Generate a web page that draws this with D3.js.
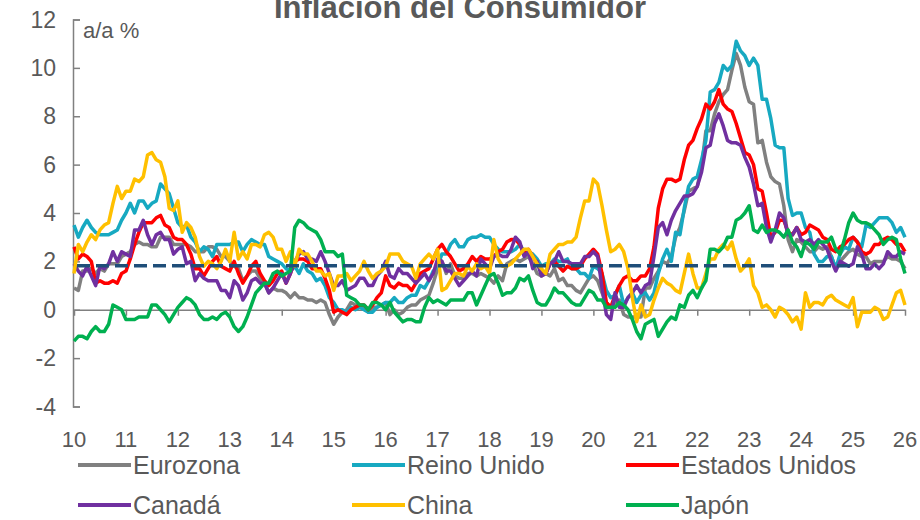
<!DOCTYPE html>
<html>
<head>
<meta charset="utf-8">
<script src="https://cdn.jsdelivr.net/npm/d3@7"></script>
<style>
  body { margin: 0; background: #fff; }
  text { font-family: 'Liberation Sans', Arial, sans-serif; fill: #595959; }
</style>
</head>
<body>
<svg id="chart"></svg>
<script>
// Monthly y/y CPI, Jan 2010 - Jan 2026
var START_YEAR = 10
var yearTicks = d3.range(10, 27)
var valueTicks = [-4, -2, 0, 2, 4, 6, 8, 10, 12]
var TARGET = 1.82
var targetSpan = [10, 25.45]

var seriesNames = ['Eurozona', 'Reino Unido', 'Estados Unidos', 'Canadá', 'China', 'Japón']
var seriesColors = ['#808080', '#17A9C1', '#FF0000', '#7030A0', '#FFC000', '#00B050']

var eurozona = [
  0.9, 0.8, 1.6, 1.6, 1.7, 1.5, 1.7, 1.6, 1.9, 1.9, 1.9, 2.2,
  2.3, 2.4, 2.7, 2.8, 2.7, 2.7, 2.6, 2.6, 3.0, 3.0, 3.0, 2.7,
  2.7, 2.7, 2.7, 2.6, 2.4, 2.4, 2.4, 2.6, 2.6, 2.5, 2.2, 2.2,
  2.0, 1.8, 1.7, 1.2, 1.4, 1.6, 1.6, 1.3, 1.1, 0.7, 0.9, 0.8,
  0.8, 0.7, 0.5, 0.7, 0.5, 0.5, 0.4, 0.4, 0.3, 0.4, 0.3, -0.2,
  -0.6, -0.3, -0.1, 0.0, 0.3, 0.2, 0.2, 0.1, -0.1, 0.1, 0.1, 0.2,
  0.3, -0.2, 0.0, -0.2, -0.1, 0.1, 0.2, 0.2, 0.4, 0.5, 0.6, 1.1,
  1.7, 2.0, 1.5, 1.9, 1.4, 1.3, 1.3, 1.5, 1.5, 1.4, 1.5, 1.4,
  1.3, 1.1, 1.4, 1.2, 1.9, 2.0, 2.1, 2.0, 2.1, 2.2, 1.9, 1.5,
  1.4, 1.5, 1.4, 1.7, 1.2, 1.3, 1.0, 1.0, 0.8, 0.7, 1.0, 1.3,
  1.4, 1.2, 0.7, 0.3, 0.1, 0.3, 0.4, -0.2, -0.3, -0.3, -0.3, -0.3,
  0.9, 0.9, 1.3, 1.6, 2.0, 1.9, 2.2, 3.0, 3.4, 4.1, 4.9, 5.0,
  5.1, 5.9, 7.4, 7.4, 8.1, 8.6, 8.9, 9.1, 9.9, 10.6, 10.1, 9.2,
  8.6, 8.5, 6.9, 7.0, 6.1, 5.5, 5.3, 5.2, 4.3, 2.9, 2.4, 2.9,
  2.8, 2.6, 2.4, 2.4, 2.6, 2.5, 2.6, 2.2, 1.7, 2.0, 2.2, 2.4,
  2.5, 2.3, 2.2, 2.2, 1.9, 2.0, 2.0, 2.0, 2.2, 2.1, 2.1, 2.0,
  1.7
]

var reinoUnido = [
  3.5, 3.0, 3.4, 3.7, 3.4, 3.2, 3.1, 3.1, 3.1, 3.2, 3.3, 3.7,
  4.0, 4.4, 4.0, 4.5, 4.5, 4.2, 4.4, 4.5, 5.2, 5.0, 4.8, 4.2,
  3.6, 3.4, 3.5, 3.0, 2.8, 2.4, 2.6, 2.5, 2.2, 2.7, 2.7, 2.7,
  2.7, 2.8, 2.8, 2.4, 2.7, 2.9, 2.8, 2.7, 2.7, 2.2, 2.1, 2.0,
  1.9, 1.7, 1.6, 1.8, 1.5, 1.9, 1.6, 1.5, 1.2, 1.3, 1.0, 0.5,
  0.3, 0.0, 0.0, -0.1, 0.1, 0.0, 0.1, 0.0, -0.1, -0.1, 0.1, 0.2,
  0.3, 0.3, 0.5, 0.3, 0.3, 0.5, 0.6, 0.6, 1.0, 0.9, 1.2, 1.6,
  1.8, 2.3, 2.3, 2.7, 2.9, 2.6, 2.6, 2.9, 3.0, 3.0, 3.1, 3.0,
  3.0, 2.7, 2.5, 2.4, 2.4, 2.4, 2.5, 2.7, 2.4, 2.4, 2.3, 2.1,
  1.8, 1.9, 1.9, 2.1, 2.0, 2.0, 2.1, 1.7, 1.7, 1.5, 1.5, 1.3,
  1.8, 1.7, 1.5, 0.8, 0.5, 0.6, 1.0, 0.2, 0.5, 0.7, 0.3, 0.6,
  0.7, 0.4, 0.7, 1.5, 2.1, 2.5, 2.0, 3.2, 3.1, 4.2, 5.1, 5.4,
  5.5, 6.2, 7.0, 9.0, 9.1, 9.4, 10.1, 9.9, 10.1, 11.1, 10.7, 10.5,
  10.1, 10.4, 10.1, 8.7, 8.7, 7.9, 6.8, 6.7, 6.7, 4.6, 3.9, 4.0,
  4.0, 3.4, 3.2, 2.3, 2.0, 2.0, 2.2, 2.2, 1.7, 2.3, 2.6, 2.5,
  3.0, 2.8, 2.6, 3.5, 3.4, 3.6, 3.8, 3.8, 3.8, 3.6, 3.2, 3.4,
  3.0
]

var estadosUnidos = [
  2.6, 2.1, 2.3, 2.2, 2.0, 1.1, 1.2, 1.1, 1.1, 1.2, 1.1, 1.5,
  1.6, 2.1, 2.7, 3.2, 3.6, 3.6, 3.6, 3.8, 3.9, 3.5, 3.4, 3.0,
  2.9, 2.9, 2.7, 2.3, 1.7, 1.7, 1.4, 1.7, 2.0, 2.2, 1.8, 1.7,
  1.6, 2.0, 1.5, 1.1, 1.4, 1.8, 2.0, 1.5, 1.2, 1.0, 1.2, 1.5,
  1.6, 1.1, 1.5, 2.0, 2.1, 2.1, 2.0, 1.7, 1.7, 1.7, 1.3, 0.8,
  -0.1, 0.0, -0.1, -0.2, 0.0, 0.1, 0.2, 0.2, 0.0, 0.2, 0.5, 0.7,
  1.4, 1.0, 0.9, 1.1, 1.0, 1.0, 0.8, 1.1, 1.5, 1.6, 1.7, 2.1,
  2.5, 2.7, 2.4, 2.2, 1.9, 1.6, 1.7, 1.9, 2.2, 2.0, 2.2, 2.1,
  2.1, 2.2, 2.4, 2.5, 2.8, 2.9, 2.9, 2.7, 2.3, 2.5, 2.2, 1.9,
  1.6, 1.5, 1.9, 2.0, 1.8, 1.6, 1.8, 1.7, 1.7, 1.8, 2.1, 2.3,
  2.5, 2.3, 1.5, 0.3, 0.1, 0.6, 1.0, 1.3, 1.4, 1.2, 1.2, 1.4,
  1.4, 1.7, 2.6, 4.2, 5.0, 5.4, 5.4, 5.3, 5.4, 6.2, 6.8, 7.0,
  7.5, 7.9, 8.5, 8.3, 8.6, 9.1, 8.5, 8.3, 8.2, 7.7, 7.1, 6.5,
  6.4, 6.0, 5.0, 4.9, 4.0, 3.0, 3.2, 3.7, 3.7, 3.2, 3.1, 3.4,
  3.1, 3.2, 3.5, 3.4, 3.3, 3.0, 2.9, 2.5, 2.4, 2.6, 2.7, 2.9,
  3.0, 2.8, 2.4, 2.3, 2.4, 2.7, 2.7, 2.9, 3.0, 2.9, 2.7, 2.7,
  2.4
]

var canada = [
  1.9, 1.6, 1.4, 1.8, 1.4, 1.0, 1.8, 1.7, 1.9, 2.4, 2.0, 2.4,
  2.3, 2.2, 3.3, 3.3, 3.7, 3.1, 2.7, 3.1, 3.2, 2.9, 2.9, 2.3,
  2.5, 2.6, 1.9, 2.0, 1.2, 1.5, 1.3, 1.2, 1.2, 1.2, 0.8, 0.8,
  0.5, 1.2, 1.0, 0.4, 0.7, 1.2, 1.3, 1.1, 1.1, 0.7, 0.9, 1.2,
  1.5, 1.1, 1.5, 2.0, 2.3, 2.4, 2.1, 2.1, 2.0, 2.4, 2.0, 1.5,
  1.0, 1.0, 1.2, 0.8, 0.9, 1.0, 1.3, 1.3, 1.0, 1.0, 1.4, 1.6,
  2.0, 1.4, 1.3, 1.7, 1.5, 1.5, 1.3, 1.1, 1.3, 1.5, 1.2, 1.5,
  2.1, 2.0, 1.6, 1.6, 1.3, 1.0, 1.2, 1.4, 1.6, 1.4, 2.1, 1.9,
  1.7, 2.2, 2.3, 2.2, 2.2, 2.5, 3.0, 2.8, 2.2, 2.4, 1.7, 2.0,
  1.4, 1.5, 1.9, 2.0, 2.4, 2.0, 2.0, 1.9, 1.9, 1.9, 2.2, 2.2,
  2.4, 2.2, 0.9, -0.2, -0.4, 0.7, 0.1, 0.1, 0.5, 0.7, 1.0, 0.7,
  1.0, 1.1, 2.2, 3.4, 3.6, 3.1, 3.7, 4.1, 4.4, 4.7, 4.7, 4.8,
  5.1, 5.7, 6.7, 6.8, 7.7, 8.1, 7.6, 7.0, 6.9, 6.9, 6.8, 6.3,
  5.9, 5.2, 4.3, 4.4, 3.4, 2.8, 3.3, 4.0, 3.8, 3.1, 3.1, 3.4,
  2.9, 2.8, 2.9, 2.7, 2.9, 2.7, 2.5, 2.0, 1.6, 2.0, 1.9, 1.8,
  1.9, 2.6, 2.3, 1.7, 1.7, 1.9, 1.7, 1.9, 2.4, 2.2, 2.2, 2.4,
  2.3
]

var china = [
  1.5, 2.7, 2.4, 2.8, 3.1, 2.9, 3.3, 3.5, 3.6, 4.4, 5.1, 4.6,
  4.9, 4.9, 5.4, 5.3, 5.5, 6.4, 6.5, 6.2, 6.1, 5.5, 4.2, 4.1,
  4.5, 3.2, 3.6, 3.4, 3.0, 2.2, 1.8, 2.0, 1.9, 1.7, 2.0, 2.5,
  2.0, 3.2, 2.1, 2.4, 2.1, 2.7, 2.7, 2.6, 3.1, 3.2, 3.0, 2.5,
  2.5, 2.0, 2.4, 1.8, 2.5, 2.3, 2.3, 2.0, 1.6, 1.6, 1.4, 1.5,
  0.8, 1.4, 1.4, 1.5, 1.2, 1.4, 1.6, 2.0, 1.6, 1.3, 1.5, 1.6,
  1.8, 2.3, 2.3, 2.3, 2.0, 1.9, 1.8, 1.3, 1.9, 2.1, 2.3, 2.1,
  2.5, 0.8, 0.9, 1.2, 1.5, 1.5, 1.4, 1.8, 1.6, 1.9, 1.7, 1.8,
  1.5, 2.9, 2.1, 1.8, 1.8, 1.9, 2.1, 2.3, 2.5, 2.5, 2.2, 1.9,
  1.7, 1.5, 2.3, 2.5, 2.7, 2.7, 2.8, 2.8, 3.0, 3.8, 4.5, 4.5,
  5.4, 5.2, 4.3, 3.3, 2.4, 2.5, 2.7, 2.4, 1.7, 0.5, -0.5, 0.2,
  -0.3, -0.2, 0.4, 0.9, 1.3, 1.1, 1.0, 0.8, 0.7, 1.5, 2.3, 1.5,
  0.9, 0.9, 1.5, 2.1, 2.1, 2.5, 2.7, 2.5, 2.8, 2.1, 1.6, 1.8,
  2.1, 1.0, 0.7, 0.1, 0.2, 0.0, -0.3, 0.1, 0.0, -0.2, -0.5, -0.3,
  -0.8, 0.7, 0.1, 0.3, 0.3, 0.2, 0.5, 0.6, 0.4, 0.3, 0.2, 0.1,
  0.5, -0.7, -0.1, -0.1, -0.1, 0.1, 0.0, -0.4, -0.3, 0.2, 0.7, 0.8,
  0.2
]

var japon = [
  -1.3, -1.1, -1.1, -1.2, -0.9, -0.7, -0.9, -0.9, -0.6, 0.2, 0.1, 0.0,
  -0.4, -0.4, -0.4, -0.3, -0.3, -0.3, 0.2, 0.2, 0.0, -0.2, -0.5, -0.2,
  0.1, 0.3, 0.5, 0.4, 0.2, -0.2, -0.4, -0.4, -0.3, -0.4, -0.2, -0.1,
  -0.3, -0.7, -0.9, -0.7, -0.3, 0.2, 0.7, 0.9, 1.1, 1.1, 1.5, 1.6,
  1.4, 1.5, 1.6, 3.4, 3.7, 3.6, 3.4, 3.3, 3.2, 2.9, 2.4, 2.4,
  2.4, 2.2, 2.3, 0.6, 0.5, 0.4, 0.2, 0.2, 0.0, 0.3, 0.3, 0.2,
  0.0, 0.3, -0.1, -0.3, -0.5, -0.4, -0.4, -0.5, -0.5, 0.1, 0.5, 0.3,
  0.4, 0.3, 0.2, 0.4, 0.4, 0.4, 0.4, 0.7, 0.7, 0.2, 0.6, 1.0,
  1.4, 1.5, 1.1, 0.6, 0.7, 0.7, 0.9, 1.3, 1.2, 1.4, 0.8, 0.3,
  0.2, 0.2, 0.5, 0.9, 0.7, 0.7, 0.5, 0.3, 0.2, 0.2, 0.5, 0.8,
  0.7, 0.4, 0.4, 0.1, 0.1, 0.1, 0.3, 0.2, 0.0, -0.4, -0.9, -1.2,
  -0.6, -0.5, -0.4, -1.1, -0.8, -0.5, -0.3, -0.4, 0.2, 0.1, 0.6, 0.8,
  0.5, 0.9, 1.2, 2.5, 2.5, 2.4, 2.6, 3.0, 3.0, 3.7, 3.8, 4.0,
  4.3, 3.3, 3.2, 3.5, 3.2, 3.3, 3.3, 3.2, 3.0, 3.3, 2.8, 2.6,
  2.2, 2.8, 2.7, 2.5, 2.8, 2.8, 2.8, 3.0, 2.5, 2.3, 2.9, 3.6,
  4.0, 3.7, 3.6, 3.6, 3.5, 3.3, 3.1, 2.7, 2.9, 3.0, 2.9, 2.1,
  1.5
]

;(function () {
  var WIDTH = 920
  var HEIGHT = 520
  var AXIS_COLOR = '#808080'
  var margin = { top: 19, left: 74, right: 15, bottom: 114 }

  var seriesValues = [eurozona, reinoUnido, estadosUnidos, canada, china, japon]

  var svg = d3.select('#chart')
    .attr('width', WIDTH)
    .attr('height', HEIGHT)

  var x = d3.scaleLinear()
    .domain([10, 26])
    .range([margin.left, WIDTH - margin.right])

  var y = d3.scaleLinear()
    .domain([-4, 12])
    .range([HEIGHT - margin.bottom + 0.5, margin.top + 0.5])

  // Title (cut at the top as in the source)
  svg.append('text')
    .attr('x', 460)
    .attr('y', 18)
    .attr('text-anchor', 'middle')
    .style('font-size', '31px')
    .style('font-weight', 'bold')
    .text('Inflación del Consumidor')

  // Y axis, ticks pointing inward
  var yAxis = svg.append('g')
    .attr('transform', 'translate(' + (margin.left - 1) + ',0)')
    .call(d3.axisRight(y).tickValues(valueTicks).tickSize(7).tickFormat(''))
  yAxis.select('.domain').attr('stroke', AXIS_COLOR).attr('stroke-width', 1.5)
  yAxis.selectAll('.tick line').attr('stroke', AXIS_COLOR).attr('stroke-width', 1.5)

  svg.append('g')
    .selectAll('text')
    .data(valueTicks)
    .enter().append('text')
    .attr('x', 56)
    .attr('y', function (d) { return y(d) + 8 })
    .attr('text-anchor', 'end')
    .style('font-size', '23px')
    .text(function (d) { return d })

  svg.append('text')
    .attr('x', 83)
    .attr('y', 38)
    .style('font-size', '22px')
    .text('a/a %')

  // X axis at zero, ticks pointing down
  var xAxis = svg.append('g')
    .attr('transform', 'translate(0,' + y(0) + ')')
    .call(d3.axisBottom(x).tickValues(yearTicks).tickSize(6).tickSizeOuter(0).tickFormat(''))
  xAxis.select('.domain').attr('stroke', AXIS_COLOR).attr('stroke-width', 1.5)
  xAxis.selectAll('.tick line').attr('stroke', AXIS_COLOR).attr('stroke-width', 1.5)

  svg.append('g')
    .selectAll('text')
    .data(yearTicks)
    .enter().append('text')
    .attr('x', function (d) { return x(d) })
    .attr('y', 447)
    .attr('text-anchor', 'middle')
    .style('font-size', '22px')
    .text(function (d) { return d })

  // Series
  var line = d3.line()
    .x(function (d, i) { return x(START_YEAR + i / 12) })
    .y(function (d) { return y(d) })

  svg.append('g')
    .classed('series', true)
    .selectAll('path')
    .data(seriesValues)
    .enter().append('path')
    .attr('d', line)
    .attr('fill', 'none')
    .attr('stroke', function (d, i) { return seriesColors[i] })
    .attr('stroke-width', 3.5)
    .attr('stroke-linejoin', 'round')

  // Target line
  svg.append('line')
    .attr('x1', x(targetSpan[0]) + 3)
    .attr('x2', x(targetSpan[1]))
    .attr('y1', y(TARGET))
    .attr('y2', y(TARGET))
    .attr('stroke', '#1F4E79')
    .attr('stroke-width', 3.5)
    .attr('stroke-dasharray', '13,6')

  // Legend
  var legendPos = [[78, 465], [352, 465], [626, 465], [78, 505], [352, 505], [626, 505]]
  var legend = svg.append('g')
    .selectAll('g')
    .data(seriesNames)
    .enter().append('g')
    .attr('transform', function (d, i) {
      return 'translate(' + legendPos[i][0] + ',' + legendPos[i][1] + ')'
    })

  legend.append('line')
    .attr('x1', 0)
    .attr('x2', 53)
    .attr('stroke', function (d, i) { return seriesColors[i] })
    .attr('stroke-width', 4)

  legend.append('text')
    .attr('x', 55)
    .attr('y', 9)
    .style('font-size', '25px')
    .text(function (d) { return d })
})()
</script>
</body>
</html>
